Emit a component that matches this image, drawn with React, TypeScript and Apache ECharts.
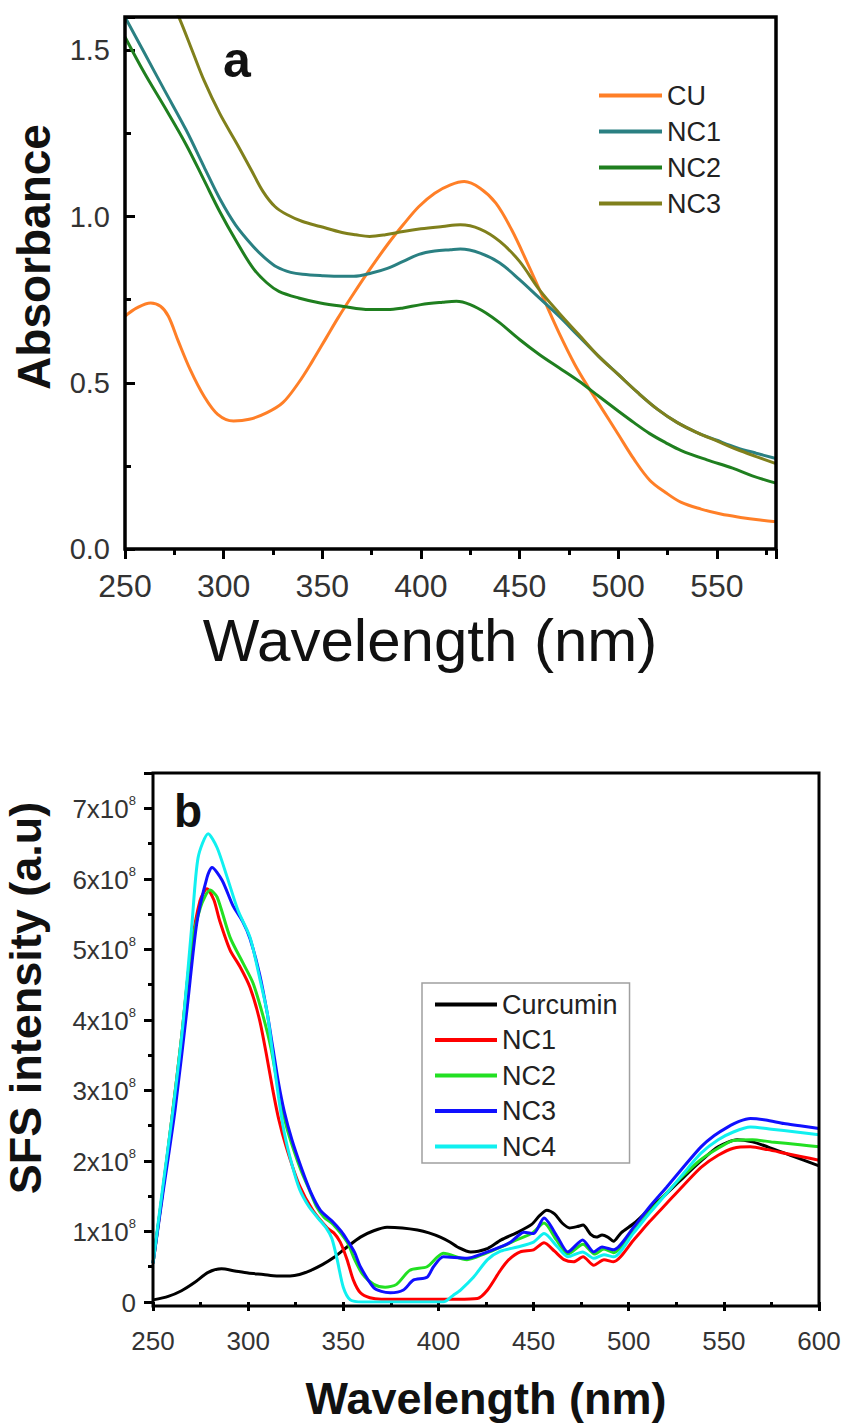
import React, { useEffect, useRef } from "react";
import * as echarts from "echarts";

const FONT = "'Liberation Sans', Arial, Helvetica, sans-serif";

// ---------- Panel a : absorbance ----------
const cuWl = [250,256,263,268,272,277,283,290,297,305,313,322,330,338,345,352,358,365,374,383,391,399,407,415,422,430,438,446,454,462,470,478,485,492,500,508,516,524,532,542,552,562,572,580];
const cuAbs = [0.70,0.725,0.74,0.73,0.70,0.625,0.54,0.46,0.405,0.385,0.39,0.41,0.44,0.50,0.565,0.635,0.695,0.76,0.84,0.915,0.975,1.03,1.07,1.095,1.105,1.085,1.04,0.96,0.86,0.755,0.65,0.555,0.485,0.42,0.345,0.27,0.207,0.17,0.14,0.12,0.105,0.095,0.087,0.082];

const nc1Wl = [250,260,270,281,290,298,306,315,321,327,334,340,350,360,366,375,383,391,399,407,415,420,430,440,450,460,470,480,490,500,510,520,530,540,550,560,570,580];
const nc1Abs = [1.60,1.49,1.38,1.26,1.15,1.054,0.975,0.91,0.875,0.848,0.832,0.826,0.822,0.82,0.82,0.83,0.844,0.865,0.886,0.896,0.90,0.902,0.89,0.86,0.81,0.755,0.70,0.64,0.58,0.525,0.47,0.42,0.38,0.35,0.327,0.305,0.288,0.272];

const nc2Wl = [250,260,270,281,290,298,306,315,322,328,338,349,360,374,383,391,400,411,418,425,433,440,450,460,470,480,490,500,508,516,524,532,545,558,568,580];
const nc2Abs = [1.54,1.43,1.33,1.216,1.11,1.015,0.93,0.844,0.80,0.775,0.755,0.74,0.73,0.72,0.72,0.725,0.735,0.742,0.745,0.735,0.71,0.68,0.63,0.585,0.545,0.505,0.46,0.415,0.38,0.347,0.32,0.296,0.268,0.243,0.22,0.198];

const nc3Wl = [265,272,278,284,290,298,307,314,320,326,332,340,349,360,367,374,382,391,400,411,420,430,440,450,460,470,480,490,500,510,520,530,540,550,560,570,580];
const nc3Abs = [1.78,1.67,1.59,1.50,1.41,1.31,1.216,1.14,1.075,1.03,1.006,0.985,0.97,0.952,0.945,0.94,0.945,0.955,0.963,0.97,0.975,0.962,0.925,0.865,0.78,0.71,0.645,0.58,0.525,0.47,0.42,0.38,0.35,0.325,0.30,0.278,0.257];

const seriesA = [
  { name: "CU", wl: cuWl, v: cuAbs, color: "#ff7f27" },
  { name: "NC1", wl: nc1Wl, v: nc1Abs, color: "#2a8082" },
  { name: "NC2", wl: nc2Wl, v: nc2Abs, color: "#1f7f1f" },
  { name: "NC3", wl: nc3Wl, v: nc3Abs, color: "#80801c" },
];

// ---------- Panel b : SFS intensity (values in units of 1e8) ----------
const curWl = [250,258,265,272,279,286,293,300,308,315,322,327,333,339,345,352,359,366,373,381,389,395,401,406,410,417,421,426,433,441,449,453,457,461,465,469,473,476,480,483,486,489,492,496,503,512,520,530,538,547,557,565,573,585,600];
const curI = [0.03,0.08,0.16,0.28,0.42,0.47,0.44,0.41,0.39,0.37,0.37,0.39,0.45,0.53,0.63,0.78,0.92,1.01,1.06,1.05,1.02,0.98,0.92,0.85,0.78,0.71,0.72,0.76,0.88,0.98,1.10,1.22,1.30,1.25,1.12,1.05,1.07,1.09,0.96,0.92,0.95,0.92,0.86,0.98,1.12,1.35,1.54,1.80,2.00,2.20,2.30,2.27,2.20,2.08,1.93];

const bNc1Wl = [250,255,260,265,270,274.7,278.4,282,285,290.5,295.8,301,306,310,313,316,320,327,334,341.6,345,348.4,352,355.3,359,364,370,390,410,420.5,425.8,432.6,437,443,450,455.5,461,466,471,476,481.6,487,492,502.6,511,520,529,538,547,555,564,573,582,591,600];
const bNc1I = [0.55,1.55,2.62,3.75,5.0,5.69,5.86,5.70,5.41,4.99,4.75,4.46,4.0,3.45,3.0,2.6,2.2,1.65,1.3,1.05,0.98,0.85,0.6,0.31,0.13,0.06,0.04,0.04,0.04,0.05,0.17,0.45,0.6,0.71,0.74,0.84,0.72,0.60,0.57,0.64,0.52,0.60,0.57,0.88,1.14,1.40,1.66,1.91,2.08,2.18,2.20,2.16,2.11,2.06,2.01];

const bNc2Wl = [250,255,260,265,270,275,280,283.7,290.5,297.4,302.6,308,312,316,320,324,328,332,336,340,344.7,352,356,360,366,372,378,385,394,399.5,402.6,415,424,433,441,449,455.5,462,468,476,482,487,492,502.6,511,520,529,538,547,555,565,575,590,600];
const bNc2I = [0.55,1.55,2.62,3.75,5.0,5.6,5.84,5.74,5.17,4.8,4.52,4.04,3.6,3.0,2.5,2.15,1.85,1.6,1.35,1.2,1.1,0.85,0.6,0.4,0.25,0.21,0.25,0.45,0.50,0.64,0.69,0.60,0.68,0.78,0.88,0.97,1.12,0.88,0.68,0.82,0.68,0.75,0.70,1.0,1.28,1.55,1.80,2.02,2.18,2.29,2.30,2.27,2.23,2.20];

const bNc3Wl = [250,255,261.6,268,273,278.4,281,286.3,292,297,301,306,310,313,316,319,323,328,333,338,344,349,352,356,359,365.8,370,374.7,381.6,386.8,394,397.4,402.6,415,423.7,432.6,438,445,450,455.5,462.6,468,475.8,481.6,486,492,502.6,511,520,529,538,545,552,558,564,572,581.6,590,600];
const bNc3I = [0.55,1.5,2.72,4.18,5.37,6.02,6.16,5.98,5.62,5.40,5.15,4.65,4.1,3.6,3.1,2.7,2.3,1.9,1.55,1.3,1.15,1.0,0.88,0.7,0.5,0.21,0.15,0.13,0.17,0.31,0.35,0.5,0.64,0.62,0.69,0.78,0.85,0.99,0.97,1.19,0.92,0.71,0.88,0.71,0.78,0.74,1.06,1.35,1.63,1.92,2.2,2.36,2.48,2.56,2.6,2.58,2.53,2.50,2.46];

const bNc4Wl = [250,255,260.5,265.8,270.5,273.7,279,283.7,289,294.7,301,306,310,313,316,319,323,327,332,337,341,344,346.8,350,353.7,360,380,402.6,408,411.6,418.4,425.8,432.6,441.6,450,455.5,462.6,468,475.8,481.6,487,492,502.6,511,520,529,538,547,555,564,575,588,600];
const bNc4I = [0.55,1.6,2.72,3.95,5.37,6.3,6.64,6.44,6.02,5.55,5.17,4.6,4.1,3.5,2.9,2.4,1.95,1.6,1.35,1.18,1.05,0.9,0.6,0.21,0.03,0.0,0.0,0.0,0.1,0.17,0.35,0.6,0.72,0.78,0.85,0.97,0.78,0.64,0.71,0.62,0.67,0.64,0.98,1.26,1.54,1.83,2.11,2.3,2.41,2.48,2.45,2.41,2.37];

const seriesB = [
  { name: "Curcumin", wl: curWl, v: curI, color: "#000000" },
  { name: "NC1", wl: bNc1Wl, v: bNc1I, color: "#ff0000" },
  { name: "NC2", wl: bNc2Wl, v: bNc2I, color: "#22e022" },
  { name: "NC3", wl: bNc3Wl, v: bNc3I, color: "#1010ff" },
  { name: "NC4", wl: bNc4Wl, v: bNc4I, color: "#10f0f0" },
];

const zip = (x: number[], y: number[]) => x.map((v, i) => [v, y[i]]);

function lineSeries(list: any[], smooth: number) {
  return list.map((s) => ({
    name: s.name,
    type: "line",
    data: zip(s.wl, s.v),
    showSymbol: false,
    symbol: "none",
    smooth,
    clip: true,
    lineStyle: { color: s.color, width: 3 },
    itemStyle: { color: s.color },
    emphasis: { disabled: true },
  }));
}

const tickStyle = { color: "#000", width: 3 };

const optA: any = {
  animation: false,
  grid: { left: 125, top: 17, width: 651, height: 532, outerBoundsMode: "none" },
  xAxis: {
    type: "value", min: 250, max: 580, interval: 50,
    axisLine: { show: false }, splitLine: { show: false },
    axisTick: { show: true, inside: false, length: 10, lineStyle: tickStyle },
    minorTick: { show: true, splitNumber: 2, length: 6, lineStyle: tickStyle },
    axisLabel: { margin: 21, fontSize: 32, color: "#333", fontFamily: FONT, showMaxLabel: false },
  },
  yAxis: {
    type: "value", min: 0, max: 1.6, interval: 0.5,
    axisLine: { show: false }, splitLine: { show: false },
    axisTick: { show: true, inside: true, length: 10, lineStyle: tickStyle },
    minorTick: { show: true, splitNumber: 2, length: 6, lineStyle: tickStyle },
    axisLabel: { margin: 15, fontSize: 29, color: "#333", fontFamily: FONT, showMaxLabel: false,
      formatter: (v: number) => v.toFixed(1) },
  },
  legend: {
    orient: "vertical", left: 599, top: 82, padding: 0,
    icon: "rect", itemWidth: 63, itemHeight: 4, itemGap: 9, selectedMode: false,
    data: seriesA.map((s) => s.name),
    textStyle: { fontSize: 27, lineHeight: 26, color: "#222", fontFamily: FONT },
  },
  graphic: [
    { type: "rect", silent: true, z: 100, shape: { x: 125, y: 17, width: 651, height: 532 },
      style: { fill: "transparent", stroke: "#000", lineWidth: 3.5 } },
    { type: "text", x: 430, y: 640, z: 100,
      style: { text: "Wavelength (nm)", fill: "#111", fontSize: 60, fontFamily: FONT, align: "center", verticalAlign: "middle" } },
    { type: "text", x: 34, y: 257, rotation: Math.PI / 2, z: 100,
      style: { text: "Absorbance", fill: "#111", fontSize: 46, fontWeight: "bold", fontFamily: FONT, align: "center", verticalAlign: "middle" } },
    { type: "text", x: 237, y: 60, z: 100,
      style: { text: "a", fill: "#111", fontSize: 50, fontWeight: "bold", fontFamily: FONT, align: "center", verticalAlign: "middle" } },
  ],
  series: lineSeries(seriesA, 0.35),
};

const optB: any = {
  animation: false,
  grid: { left: 153, top: 73, width: 666, height: 529, outerBoundsMode: "none" },
  xAxis: {
    type: "value", min: 250, max: 600, interval: 50, offset: 4,
    axisLine: { show: false }, splitLine: { show: false },
    axisTick: { show: true, inside: false, length: 9, lineStyle: tickStyle },
    minorTick: { show: true, splitNumber: 2, length: 5, lineStyle: tickStyle },
    axisLabel: { margin: 22, fontSize: 26, color: "#333", fontFamily: FONT },
  },
  yAxis: {
    type: "value", min: 0, max: 7.5, interval: 1,
    axisLine: { show: false }, splitLine: { show: false },
    axisTick: { show: true, inside: false, length: 9, lineStyle: tickStyle },
    minorTick: { show: true, splitNumber: 2, length: 5, lineStyle: tickStyle },
    axisLabel: {
      margin: 17, showMaxLabel: false,
      formatter: (v: number) => (v === 0 ? "{b|0}" : `{b|${v}x10}{s|8}`),
      rich: {
        b: { fontSize: 26, color: "#333", fontFamily: FONT, lineHeight: 28, verticalAlign: "bottom" },
        s: { fontSize: 13, color: "#333", fontFamily: FONT, lineHeight: 13, verticalAlign: "top" },
      },
    },
  },
  legend: {
    orient: "vertical", left: 422, top: 283, padding: [8, 12, 3, 13],
    borderColor: "#a0a0a0", borderWidth: 1.5, backgroundColor: "#fff",
    icon: "rect", itemWidth: 62, itemHeight: 4, itemGap: 8.5, selectedMode: false,
    data: seriesB.map((s) => s.name),
    textStyle: { fontSize: 27, lineHeight: 26, color: "#222", fontFamily: FONT },
  },
  graphic: [
    { type: "rect", silent: true, z: 100, shape: { x: 153, y: 73, width: 666, height: 533 },
      style: { fill: "transparent", stroke: "#000", lineWidth: 3 } },
    { type: "text", x: 486, y: 698, z: 100,
      style: { text: "Wavelength (nm)", fill: "#111", fontSize: 45, fontWeight: "bold", fontFamily: FONT, align: "center", verticalAlign: "middle" } },
    { type: "text", x: 25, y: 298, rotation: Math.PI / 2, z: 100,
      style: { text: "SFS intensity (a.u)", fill: "#111", fontSize: 45, fontWeight: "bold", fontFamily: FONT, align: "center", verticalAlign: "middle" } },
    { type: "text", x: 188, y: 111, z: 100,
      style: { text: "b", fill: "#111", fontSize: 46, fontWeight: "bold", fontFamily: FONT, align: "center", verticalAlign: "middle" } },
  ],
  series: lineSeries(seriesB, 0.25),
};

export default function App() {
  const refA = useRef<HTMLDivElement>(null);
  const refB = useRef<HTMLDivElement>(null);
  useEffect(() => {
    document.body.style.margin = "0";
    const a = echarts.init(refA.current!, undefined, { renderer: "svg" });
    a.setOption(optA);
    const b = echarts.init(refB.current!, undefined, { renderer: "svg" });
    b.setOption(optB);
    return () => {
      a.dispose();
      b.dispose();
    };
  }, []);
  return (
    <div style={{ position: "relative", width: 844, height: 1423, background: "#fff" }}>
      <div ref={refA} style={{ position: "absolute", left: 0, top: 0, width: 844, height: 700 }} />
      <div ref={refB} style={{ position: "absolute", left: 0, top: 700, width: 844, height: 723 }} />
    </div>
  );
}
